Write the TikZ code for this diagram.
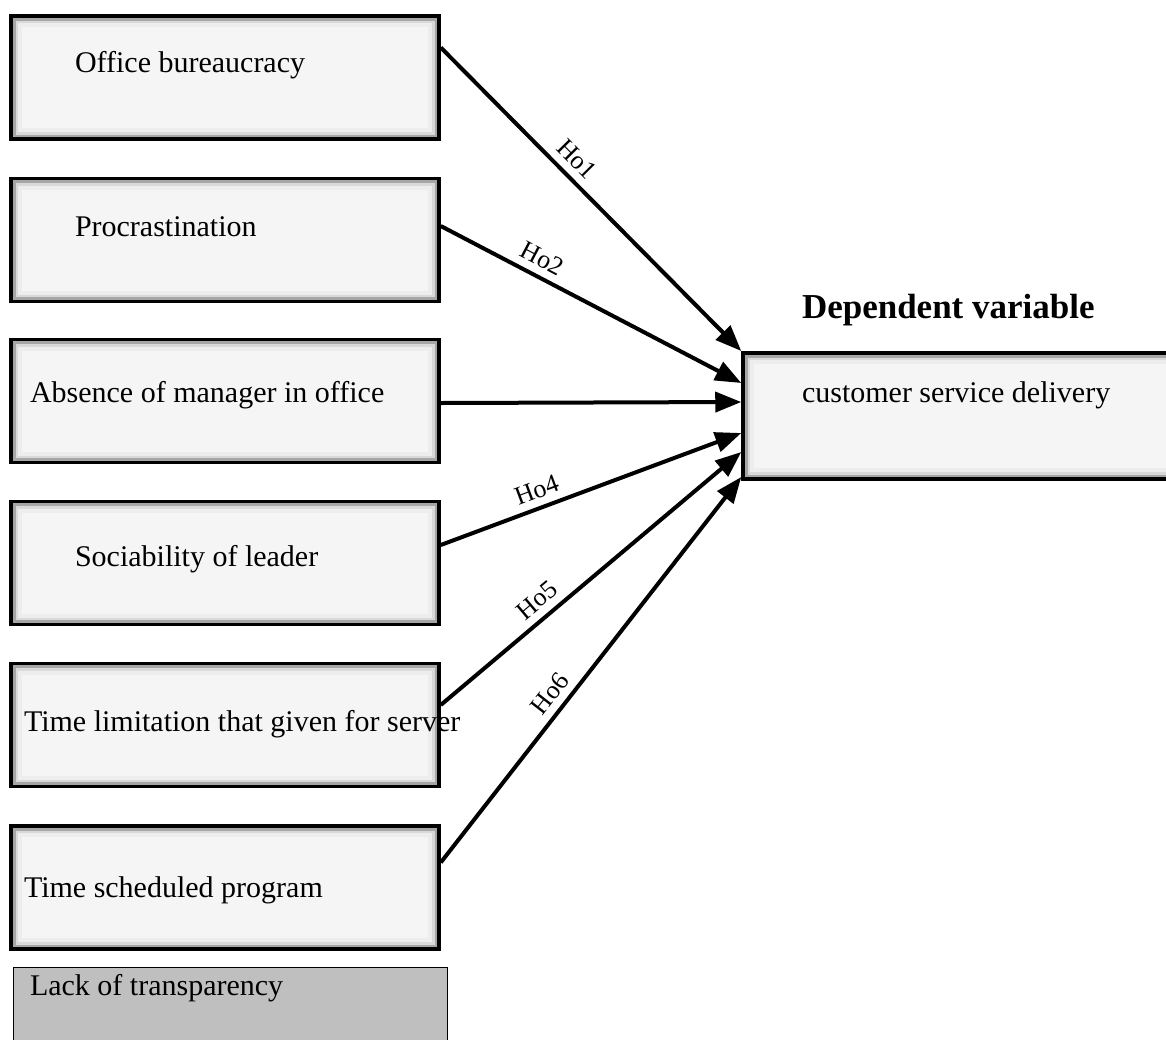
\documentclass[tikz,border=0pt]{standalone}
\usepackage{fontspec}
\setmainfont{Liberation Serif}
\usetikzlibrary{arrows.meta, positioning}
\tikzset{
    factor/.style={
           rectangle,
           draw=black, line width=3.5pt,
           fill=black!4,
           minimum width=428pt,
           minimum height=123pt,
           inner sep=0pt,
           path picture={
             \draw[line width=22pt, black!7] (path picture bounding box.south west) rectangle (path picture bounding box.north east);
             \draw[line width=14pt, black!15] (path picture bounding box.south west) rectangle (path picture bounding box.north east);
             \draw[line width=9pt, black!35] (path picture bounding box.south west) rectangle (path picture bounding box.north east);
           },
           },
    lackbox/.style={
           rectangle,
           draw=black, line width=1pt,
           fill=black!25,
           minimum width=434pt,
           minimum height=100pt,
           inner sep=0pt,
           },
    txt/.style={anchor=base west, inner sep=0pt, font=\fontsize{30}{36}\selectfont},
    hlabel/.style={font=\fontsize{26}{30}\selectfont, sloped, above=4pt},
}

\begin{document}
\begin{tikzpicture}[x=1pt, y=-1pt, line width=4pt]
  \useasboundingbox (0,0) rectangle (1166,1039);
  \node[factor]  (B1) at (225,  77.5) {};
  \node[factor]  (B2) at (225, 240)   {};
  \node[factor]  (B3) at (225, 401)   {};
  \node[factor]  (B4) at (225, 563)   {};
  \node[factor]  (B5) at (225, 725)   {};
  \node[factor]  (B6) at (225, 887.5) {};
  \node[lackbox] (B7) at (230, 1017)  {};
  \node[factor, minimum width=440pt, minimum height=126pt] (DV) at (963, 416) {};
  \node[txt] (T1) at ( 73,  72) {Office bureaucracy};
  \node[txt] (T2) at ( 73, 236) {Procrastination};
  \node[txt] (T3) at ( 28, 402) {Absence of manager in office};
  \node[txt] (T4) at ( 73, 566) {Sociability of leader};
  \node[txt] (T5) at ( 22, 731) {Time limitation that given for server};
  \node[txt] (T6) at ( 22, 897) {Time scheduled program};
  \node[txt] (T7) at ( 28, 995) {Lack of transparency};
  \node[txt] (T8) at (800, 402) {customer service delivery};
  \node[txt, font=\bfseries\fontsize{35}{40}\selectfont] (H) at (800, 318) {Dependent variable};
  \begin{scope}[-{Triangle[length=26pt,width=20pt]}]
  \draw ([yshift=30pt]B1.east) -- node[hlabel, pos=0.41]{Ho1} ([yshift=65pt]DV.west);
  \draw ([yshift=14pt]B2.east) -- node[hlabel, pos=0.31]{Ho2} ([yshift=33pt]DV.west);
  \draw ([yshift=-2pt]B3.east) --                              ([yshift=14pt]DV.west);
  \draw ([yshift=18pt]B4.east) -- node[hlabel, pos=0.34]{Ho4} ([yshift=-17pt]DV.west);
  \draw ([yshift=20pt]B5.east) -- node[hlabel, pos=0.36]{Ho5} ([yshift=-36pt]DV.west);
  \draw ([yshift=25pt]B6.east) -- node[hlabel, pos=0.41]{Ho6} ([yshift=-61pt]DV.west);
  \end{scope}
\end{tikzpicture}
\end{document}
